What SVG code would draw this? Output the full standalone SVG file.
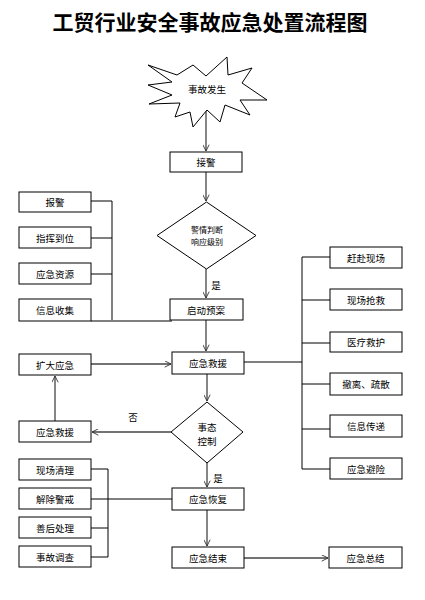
<svg xmlns="http://www.w3.org/2000/svg" width="425" height="600" viewBox="0 0 425 600">
<defs>
<marker id="arr" viewBox="0 0 10 10" refX="10" refY="5" markerWidth="7" markerHeight="7" markerUnits="userSpaceOnUse" orient="auto">
<path d="M1,0.5 L10,5 L1,9.5" fill="none" stroke="#333" stroke-width="1.3"/>
</marker>
</defs>
<style>
.box{fill:#fff;stroke:#000;stroke-width:1}
.t{font-family:"Noto Sans CJK SC","Liberation Sans",sans-serif;font-size:9.5px;text-anchor:middle;dominant-baseline:central;fill:#000}
.s{font-size:8px}
.ln{fill:none;stroke:#000;stroke-width:1}
.ar{fill:none;stroke:#444;stroke-width:1.3;marker-end:url(#arr)}
.title{font-family:"Noto Sans CJK SC","Liberation Serif",serif;font-size:21px;font-weight:bold;text-anchor:middle;fill:#000}
</style>
<rect width="425" height="600" fill="#fff"/>
<text class="title" x="210" y="30">工贸行业安全事故应急处置流程图</text>

<g id="connectors">
<line class="ar" x1="206" y1="111" x2="206" y2="151"/>
<line class="ar" x1="206" y1="172" x2="206" y2="201"/>
<line class="ar" x1="206" y1="269" x2="206" y2="298"/>
<line class="ar" x1="206" y1="320" x2="206" y2="351"/>
<line class="ar" x1="207" y1="374" x2="207" y2="401"/>
<line class="ar" x1="207" y1="463" x2="207" y2="487"/>
<line class="ar" x1="207" y1="510" x2="207" y2="546"/>
<line class="ar" x1="244" y1="558" x2="328" y2="558"/>
<line class="ar" x1="91" y1="364" x2="171" y2="364"/>
<line class="ar" x1="55" y1="421" x2="55" y2="376"/>
<line class="ar" x1="171" y1="432" x2="92" y2="432"/>
<polyline class="ln" points="91,201 112,201 112,320"/>
<line class="ln" x1="91" y1="238" x2="112" y2="238"/>
<line class="ln" x1="91" y1="274" x2="112" y2="274"/>
<line class="ln" x1="91" y1="321" x2="172" y2="321"/>
<line class="ln" x1="244" y1="362" x2="302" y2="362"/>
<polyline class="ln" points="330,257 302,257 302,469 330,469"/>
<line class="ln" x1="302" y1="300" x2="330" y2="300"/>
<line class="ln" x1="302" y1="343" x2="330" y2="343"/>
<line class="ln" x1="302" y1="384" x2="330" y2="384"/>
<line class="ln" x1="302" y1="429" x2="330" y2="429"/>
<polyline class="ln" points="91,469 108,469 108,557 91,557"/>
<line class="ln" x1="91" y1="499" x2="172" y2="499"/>
<line class="ln" x1="91" y1="528" x2="108" y2="528"/>
<text class="t" x="216" y="285">是</text>
<text class="t" x="218" y="478">是</text>
<text class="t" x="133" y="417">否</text>
</g>

<g id="n-start">
<polygon class="box" points="148,65 177,75 193,65 206,76 227,57 228,75 252,68 242,83 267,100 240,100 250,115 225,105 220,122 207,110 193,127 190,112 175,117 180,103 149,104 172,95 148,85 172,82"/>
<text class="t" x="207" y="89">事故发生</text>
</g>
<g id="n-jiejing"><rect class="box" x="170" y="152" width="72" height="20"/><text class="t" x="206" y="162">接警</text></g>
<g id="n-judge"><polygon class="box" points="206.5,202 256,235.5 206.5,269 157,235.5"/><text class="t s" x="207" y="229">警情判断</text><text class="t s" x="207" y="241">响应级别</text></g>
<g id="n-qidong"><rect class="box" x="170" y="299" width="73" height="21"/><text class="t" x="206" y="310">启动预案</text></g>
<g id="n-baojing"><rect class="box" x="19" y="192" width="72" height="20"/><text class="t" x="55" y="202">报警</text></g>
<g id="n-zhihui"><rect class="box" x="19" y="227" width="72" height="21"/><text class="t" x="55" y="238">指挥到位</text></g>
<g id="n-ziyuan"><rect class="box" x="19" y="263" width="72" height="21"/><text class="t" x="55" y="274">应急资源</text></g>
<g id="n-xinxi"><rect class="box" x="19" y="299" width="72" height="22"/><text class="t" x="55" y="310">信息收集</text></g>
<g id="n-r1"><rect class="box" x="330" y="247" width="72" height="21"/><text class="t" x="366" y="257.5">赶赴现场</text></g>
<g id="n-r2"><rect class="box" x="330" y="289" width="72" height="21"/><text class="t" x="366" y="299.5">现场抢救</text></g>
<g id="n-r3"><rect class="box" x="330" y="332" width="72" height="20"/><text class="t" x="366" y="342">医疗救护</text></g>
<g id="n-r4"><rect class="box" x="330" y="373" width="72" height="22"/><text class="t" x="366" y="384">撤离、疏散</text></g>
<g id="n-r5"><rect class="box" x="330" y="415" width="72" height="22"/><text class="t" x="366" y="426">信息传递</text></g>
<g id="n-r6"><rect class="box" x="330" y="458" width="72" height="21"/><text class="t" x="366" y="468.5">应急避险</text></g>
<g id="n-jiuyuan"><rect class="box" x="172" y="352" width="72" height="22"/><text class="t" x="208" y="363">应急救援</text></g>
<g id="n-kuoda"><rect class="box" x="19" y="354" width="72" height="21"/><text class="t" x="55" y="364.5">扩大应急</text></g>
<g id="n-jiuyuan2"><rect class="box" x="19" y="421" width="72" height="21"/><text class="t" x="55" y="431.5">应急救援</text></g>
<g id="n-control"><polygon class="box" points="207,402 243,432 207,463 171,432"/><text class="t" x="207" y="427">事态</text><text class="t" x="207" y="441">控制</text></g>
<g id="n-huifu"><rect class="box" x="172" y="488" width="72" height="22"/><text class="t" x="208" y="499">应急恢复</text></g>
<g id="n-jieshu"><rect class="box" x="172" y="547" width="72" height="21"/><text class="t" x="208" y="557.5">应急结束</text></g>
<g id="n-zongjie"><rect class="box" x="329" y="547" width="73" height="21"/><text class="t" x="365.5" y="557.5">应急总结</text></g>
<g id="n-l1"><rect class="box" x="19" y="459" width="72" height="21"/><text class="t" x="55" y="469.5">现场清理</text></g>
<g id="n-l2"><rect class="box" x="19" y="488" width="72" height="21"/><text class="t" x="55" y="498.5">解除警戒</text></g>
<g id="n-l3"><rect class="box" x="19" y="517" width="72" height="21"/><text class="t" x="55" y="527.5">善后处理</text></g>
<g id="n-l4"><rect class="box" x="19" y="546" width="72" height="21"/><text class="t" x="55" y="556.5">事故调查</text></g>
</svg>
